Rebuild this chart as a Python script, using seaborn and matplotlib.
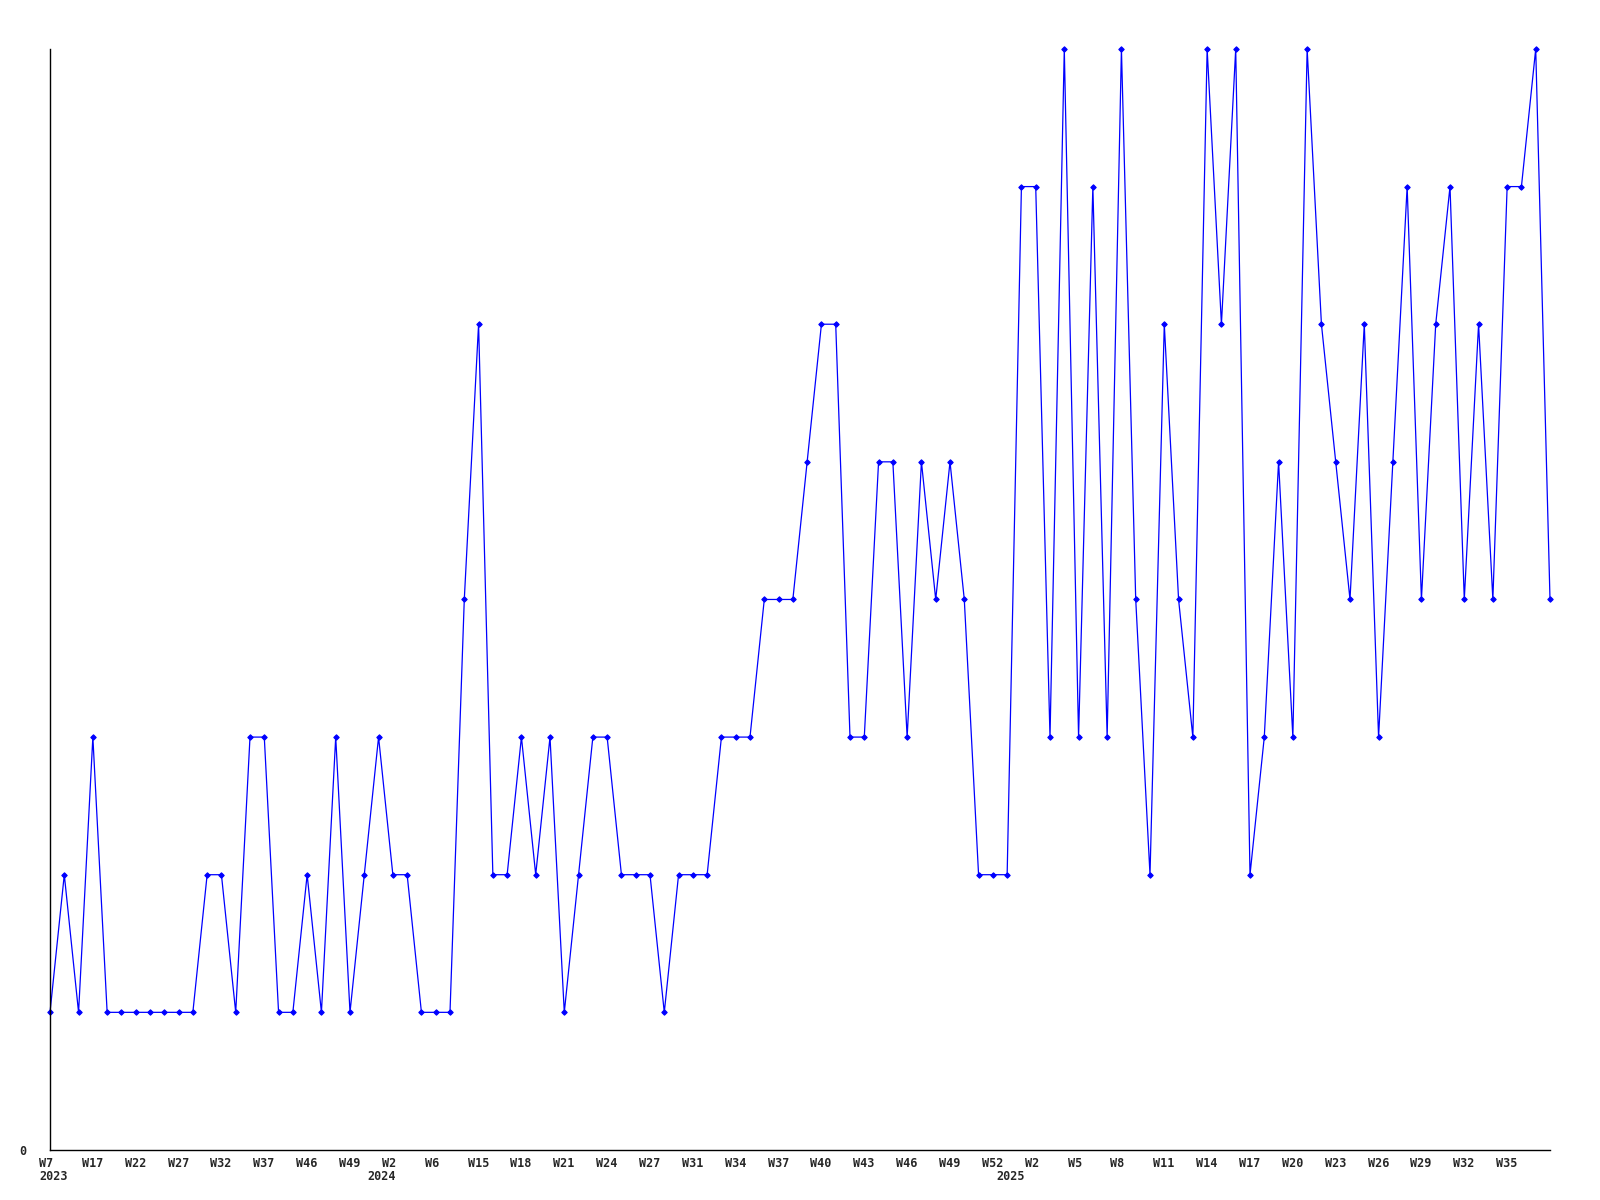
import matplotlib
matplotlib.use("Agg")
import matplotlib.pyplot as plt
import matplotlib.transforms as mtransforms
import seaborn as sns
import pandas as pd

# weekly counts, one entry per week that has data
counts = [1, 2, 1, 3, 1, 1, 1, 1, 1, 1,
          1, 2, 2, 1, 3, 3, 1, 1, 2, 1,
          3, 1, 2, 3, 2, 2, 1, 1, 1, 4,
          6, 2, 2, 3, 2, 3, 1, 2, 3, 3,
          2, 2, 2, 1, 2, 2, 2, 3, 3, 3,
          4, 4, 4, 5, 6, 6, 3, 3, 5, 5,
          3, 5, 4, 5, 4, 2, 2, 2, 7, 7,
          3, 8, 3, 7, 3, 8, 4, 2, 6, 4,
          3, 8, 6, 8, 2, 3, 5, 3, 8, 6,
          5, 4, 6, 3, 5, 7, 4, 6, 7, 4,
          6, 4, 7, 7, 8, 4]

# labels shown on every third point
week_labels = ["W7", "W17", "W22", "W27", "W32", "W37", "W46", "W49", "W2",
               "W6", "W15", "W18", "W21", "W24", "W27", "W31", "W34", "W37",
               "W40", "W43", "W46", "W49", "W52", "W2", "W5", "W8", "W11",
               "W14", "W17", "W20", "W23", "W26", "W29", "W32", "W35"]
years = ["2023", "2024", "2025"]
year_first_point = [0, 23, 67]

df = pd.DataFrame({"idx": range(len(counts)), "count": counts})

sns.set_style("white")
plt.rcParams['font.family'] = ['DejaVu Sans Mono']

fig = plt.figure(figsize=(16, 12), dpi=100)
ax = fig.add_axes([0.03125, 0.0417, 0.9375, 0.9175])

sns.lineplot(data=df, x="idx", y="count", ax=ax, color="#0000ff",
             linewidth=0.9, marker="D", markersize=2.8,
             markeredgecolor="#0000ff", markerfacecolor="#0000ff",
             clip_on=False)

ax.set_xlim(0, len(counts) - 1)
ax.set_ylim(0, 8)
ax.set_xlabel("")
ax.set_ylabel("")

ax.set_xticks([])
ax.set_yticks([0])
ax.set_yticklabels(["0"], fontsize=8.5, fontweight="bold")
ax.tick_params(axis="y", length=0, pad=17)

# labels start a little left of their point
shift = mtransforms.ScaledTranslation(-0.11, 0, fig.dpi_scale_trans)
trans = mtransforms.blended_transform_factory(ax.transData, ax.transAxes) + shift

for k, lbl in enumerate(week_labels):
    ax.text(k * 3, -0.0063, lbl, transform=trans, ha="left", va="top",
            fontsize=8.5, fontweight="bold", clip_on=False)

for yr, i in zip(years, year_first_point):
    ax.text(i, -0.0245, yr, transform=trans, ha="left", va="center",
            fontsize=8.5, fontweight="bold", clip_on=False)

sns.despine(ax=ax, top=True, right=True)
for side in ["left", "bottom"]:
    ax.spines[side].set_color("black")
    ax.spines[side].set_linewidth(1.0)

fig.savefig("out.png", dpi=100, facecolor="white")
